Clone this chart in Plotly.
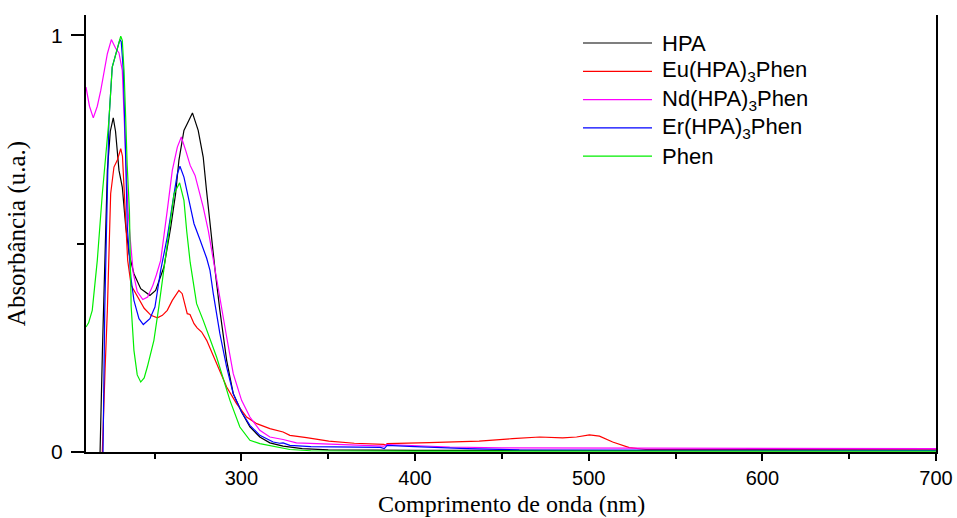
import plotly.graph_objects as go

# ---------------- data ----------------
hpa_nm = [218.0, 218.6, 220.0, 221.5, 222.8, 224.5, 226.2, 227.5, 228.5, 229.5, 231.4, 233.4, 235.3,
          238.1, 242.0, 247.3, 250.6, 255.4, 259.3, 262.1, 264.0, 266.9, 268.8, 271.8, 275.1,
          278.0, 279.9, 281.9, 283.8, 285.0, 287.6, 291.5, 295.3, 300.1, 304.9, 310.6, 316.4,
          324.0, 335.0, 350.0, 400.0, 500.0, 600.0, 700.0]
hpa_abs = [-0.02, 0.0, 0.25, 0.50, 0.676, 0.77, 0.802, 0.77, 0.716, 0.676, 0.636, 0.54, 0.476,
           0.428, 0.392, 0.376, 0.388, 0.444, 0.54, 0.62, 0.70, 0.772, 0.788, 0.814, 0.772,
           0.708, 0.628, 0.548, 0.468, 0.43, 0.34, 0.22, 0.14, 0.096, 0.06, 0.036, 0.022,
           0.014, 0.008, 0.005, 0.004, 0.003, 0.003, 0.003]

eu_nm = [219.5, 219.9, 221.5, 222.8, 224.7, 226.6, 228.5, 230.5, 231.5, 232.6, 233.6, 234.5, 236.5,
         240.1, 244.0, 247.9, 251.6, 254.5, 257.3, 260.2, 262.0, 264.0, 265.9, 267.9, 268.8,
         270.4, 272.7, 274.5, 277.1, 280.0, 285.7, 291.5, 297.2, 303.0, 308.8, 316.4, 324.0,
         327.9, 337.5, 350.3, 365.0, 382.0, 383.0, 383.9, 408.1, 436.9, 456.0, 471.8, 485.0,
         493.0, 500.4, 506.2, 513.8, 523.4, 533.0, 600.0, 700.0]
eu_abs = [-0.02, 0.0, 0.2, 0.34, 0.62, 0.684, 0.70, 0.728, 0.71, 0.62, 0.54, 0.46, 0.40,
          0.372, 0.345, 0.328, 0.322, 0.328, 0.34, 0.364, 0.375, 0.388, 0.38, 0.348, 0.332,
          0.33, 0.308, 0.298, 0.288, 0.268, 0.212, 0.156, 0.116, 0.084, 0.068, 0.056, 0.048,
          0.04, 0.0345, 0.026, 0.021, 0.0185, 0.016, 0.02, 0.0225, 0.026, 0.032, 0.036, 0.034,
          0.036, 0.041, 0.038, 0.024, 0.0105, 0.006, 0.005, 0.005]

nd_nm = [210.5, 212.5, 214.7, 217.0, 219.0, 221.0, 222.8, 225.1, 227.7, 229.5, 230.5, 231.4, 232.5,
         233.5, 234.7, 235.8, 237.7, 240.0, 243.2, 246.0, 249.0, 251.0, 253.5, 257.3, 260.2,
         263.1, 265.4, 267.9, 270.5, 273.3, 276.1, 278.0, 280.9, 283.8, 287.6, 291.5, 295.3,
         300.1, 304.9, 310.6, 316.4, 324.0, 331.7, 356.7, 382.0, 383.9, 420.0, 450.0, 550.0, 700.0]
nd_abs = [0.876, 0.83, 0.802, 0.83, 0.868, 0.92, 0.956, 0.99, 0.968, 0.958, 0.94, 0.916, 0.80,
          0.68, 0.58, 0.52, 0.43, 0.385, 0.366, 0.372, 0.40, 0.425, 0.46, 0.58, 0.676,
          0.732, 0.756, 0.724, 0.688, 0.664, 0.62, 0.588, 0.532, 0.46, 0.372, 0.276, 0.188,
          0.124, 0.084, 0.052, 0.036, 0.03, 0.022, 0.018, 0.014, 0.018, 0.012, 0.010, 0.009, 0.008]

er_nm = [220.0, 220.3, 221.3, 223.2, 223.7, 225.6, 228.5, 230.0, 230.8, 232.0, 232.8, 233.4, 234.3,
         236.3, 238.1, 241.0, 243.5, 247.3, 250.2, 253.5, 257.3, 261.2, 263.1, 264.6, 266.9,
         269.8, 272.7, 276.1, 278.0, 280.0, 281.9, 283.8, 287.6, 291.5, 295.3, 300.1, 304.9,
         310.6, 318.3, 322.0, 324.0, 327.9, 340.0, 356.7, 380.0, 382.3, 383.9, 400.0, 430.0,
         460.0, 550.0, 700.0]
er_abs = [-0.02, 0.0, 0.34, 0.70, 0.796, 0.924, 0.972, 0.99, 0.985, 0.916, 0.796, 0.70, 0.54,
          0.42, 0.364, 0.32, 0.306, 0.32, 0.348, 0.436, 0.516, 0.62, 0.668, 0.686, 0.66,
          0.604, 0.548, 0.51, 0.49, 0.465, 0.436, 0.38, 0.284, 0.204, 0.14, 0.096, 0.064,
          0.04, 0.024, 0.021, 0.022, 0.016, 0.013, 0.012, 0.011, 0.008, 0.016, 0.013, 0.008,
          0.005, 0.004, 0.004]

phen_nm = [210.5, 212.0, 214.1, 217.0, 219.9, 221.8, 223.7, 225.6, 228.5, 230.5, 231.4, 232.4,
           233.4, 234.2, 235.5, 236.5, 238.1, 240.0, 242.0, 244.0, 245.8, 249.6, 252.5, 257.3,
           261.2, 264.4, 266.9, 268.5, 270.5, 274.2, 278.0, 285.7, 293.4, 299.1, 304.9, 310.6,
           320.2, 327.9, 340.0, 400.0, 700.0]
phen_abs = [0.30, 0.31, 0.34, 0.46, 0.62, 0.70, 0.796, 0.924, 0.972, 0.998, 0.988, 0.916,
            0.796, 0.69, 0.58, 0.35, 0.244, 0.185, 0.168, 0.178, 0.204, 0.268, 0.35, 0.50,
            0.62, 0.646, 0.604, 0.53, 0.455, 0.356, 0.316, 0.228, 0.124, 0.06, 0.028, 0.02,
            0.012, 0.006, 0.003, 0.002, 0.002]

series_names = ["HPA", "Eu(HPA)<sub>3</sub>Phen", "Nd(HPA)<sub>3</sub>Phen",
                "Er(HPA)<sub>3</sub>Phen", "Phen"]
series_x = [hpa_nm, eu_nm, nd_nm, er_nm, phen_nm]
series_y = [hpa_abs, eu_abs, nd_abs, er_abs, phen_abs]
series_colors = ["#000000", "#ff0000", "#ff00ff", "#0000ff", "#00ee00"]

x_ticks = [300, 400, 500, 600, 700]
y_ticks = [0, 1]
x_title = "Comprimento de onda (nm)"
y_title = "Absorbância (u.a.)"

# ---------------- figure ----------------
W, H = 957, 518
ML, MR, MT, MB = 86, 21, 15, 66
PW, PH = W - ML - MR, H - MT - MB

fig = go.Figure()
for name, xs, ys, col in zip(series_names, series_x, series_y, series_colors):
    fig.add_trace(go.Scatter(x=xs, y=ys, mode="lines", name=name, showlegend=False,
                             line=dict(color=col, width=1.2)))

sans = "Liberation Sans, Arial, sans-serif"
serif = "Liberation Serif, Times New Roman, serif"

# legend drawn as shapes + annotations (long line samples as in the reference)
leg_x0, leg_x1, leg_tx = 583, 652, 660   # pixel positions
leg_y0, leg_dy = 43, 28.3
for i, (name, col) in enumerate(zip(series_names, series_colors)):
    py = leg_y0 + i * leg_dy
    yp = 1 - (py - MT) / PH
    fig.add_shape(type="line", xref="paper", yref="paper",
                  x0=(leg_x0 - ML) / PW, x1=(leg_x1 - ML) / PW, y0=yp, y1=yp,
                  line=dict(color=col, width=1.2))
    fig.add_annotation(xref="paper", yref="paper", x=(leg_tx - ML) / PW, y=yp,
                       xanchor="left", yanchor="middle", showarrow=False,
                       text=name, font=dict(family=sans, size=22, color="black"))

# x-axis title placed as an annotation under the tick labels
fig.add_annotation(xref="paper", yref="paper", x=0.5, y=1 - (504 - MT) / PH,
                   xanchor="center", yanchor="middle", showarrow=False,
                   text=x_title, font=dict(family=serif, size=24, color="black"))

tickfont = dict(family=sans, size=20, color="black")

fig.update_layout(
    width=W, height=H,
    margin=dict(l=ML, r=MR, t=MT, b=MB),
    paper_bgcolor="white", plot_bgcolor="white",
    showlegend=False,
    xaxis=dict(range=[210.5, 700], tickvals=x_ticks, ticktext=[str(v) for v in x_ticks],
               ticks="outside", ticklen=7, tickwidth=2, tickcolor="black",
               minor=dict(dtick=50, tick0=0, ticks="outside", ticklen=5, tickwidth=2,
                          tickcolor="black"),
               showline=True, linewidth=2, linecolor="black", mirror=False,
               showgrid=False, zeroline=False, tickfont=tickfont, automargin=False),
    xaxis2=dict(range=[210.5, 700], overlaying="x", side="top", anchor="y", matches="x",
                tickvals=x_ticks, showticklabels=False, automargin=False,
                ticks="outside", ticklen=4, tickwidth=1, tickcolor="black",
                minor=dict(dtick=50, tick0=0, ticks="outside", ticklen=3, tickwidth=1,
                           tickcolor="black"),
                showline=True, linewidth=1, linecolor="black", showgrid=False, zeroline=False),
    yaxis=dict(range=[0, 1.049], tickvals=y_ticks, ticktext=["0", "1"],
               ticks="outside", ticklen=13, tickwidth=2, tickcolor="black",
               minor=dict(dtick=0.5, tick0=0, ticks="outside", ticklen=7, tickwidth=2,
                          tickcolor="black"),
               showline=True, linewidth=2, linecolor="black", mirror=True,
               showgrid=False, zeroline=False, tickfont=dict(family=sans, size=21, color="black"),
               automargin=False, ticklabelstandoff=4,
               title=dict(text=y_title,
                          font=dict(family=serif, size=25, color="black"), standoff=18)),
)

fig.write_html("out.html")
